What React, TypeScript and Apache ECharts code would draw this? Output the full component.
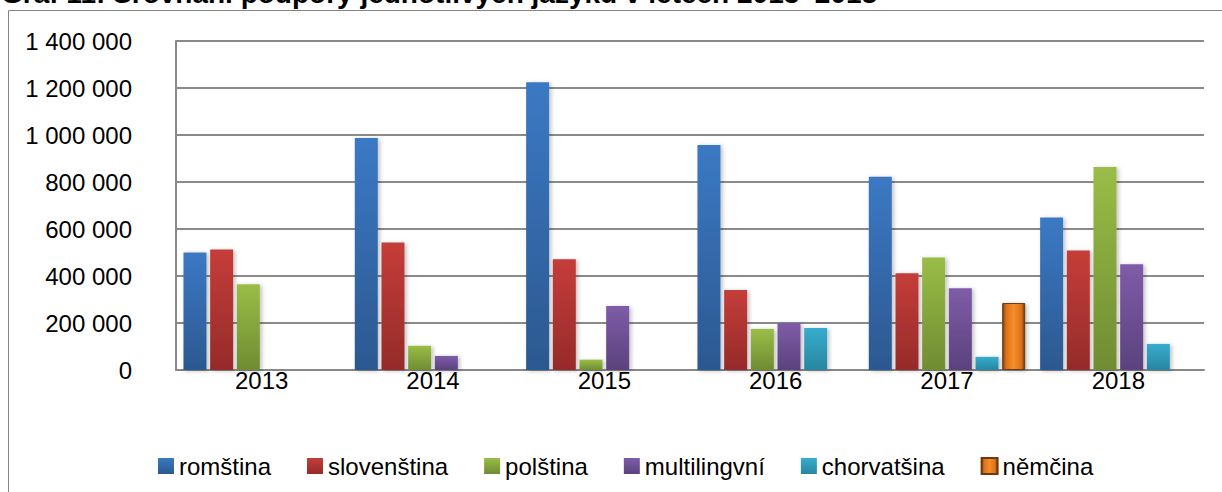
import React, { useEffect, useRef } from "react";
import * as echarts from "echarts";

const titleText = "Graf 11: Srovnání podpory jednotlivých jazyků v letech 2013–2018";
const categories = ["2013", "2014", "2015", "2016", "2017", "2018"];
const seriesNames = ["romština", "slovenština", "polština", "multilingvní", "chorvatšina", "němčina"];
const romstina = [500000, 987000, 1224000, 957000, 822000, 649000];
const slovenstina = [513000, 543000, 471000, 340000, 412000, 509000];
const polstina = [365000, 103000, 44000, 175000, 479000, 864000];
const multilingvni = [null, 60000, 272000, 200000, 348000, 450000];
const chorvatsina = [null, null, null, 179000, 56000, 111000];
const nemcina = [null, null, null, null, 285000, null];
const yTicks = { min: 0, max: 1400000, interval: 200000 };

const vGrad = (top: string, bottom: string) =>
  new echarts.graphic.LinearGradient(0, 0, 0, 1, [
    { offset: 0, color: top },
    { offset: 1, color: bottom },
  ]);

const fmt = (v: number) => String(v).replace(/\B(?=(\d{3})+(?!\d))/g, " ");

export default function App() {
  const ref = useRef<HTMLDivElement>(null);
  useEffect(() => {
    if (!ref.current) return;
    const chart = echarts.init(ref.current, null, { renderer: "svg" });
    const font = "'Liberation Sans', Arial, sans-serif";
    const colors = [
      vGrad("#3b79c4", "#2c5890"),
      vGrad("#c53d3a", "#952b29"),
      vGrad("#9abd47", "#6f8c32"),
      vGrad("#7e5ca8", "#5b427d"),
      vGrad("#37acce", "#2886a0"),
      new echarts.graphic.LinearGradient(0, 0, 1, 0, [
        { offset: 0, color: "#7a3f10" },
        { offset: 0.15, color: "#d9731b" },
        { offset: 0.5, color: "#f88d27" },
        { offset: 0.85, color: "#d9731b" },
        { offset: 1, color: "#6e380e" },
      ]),
    ];
    const data = [romstina, slovenstina, polstina, multilingvni, chorvatsina, nemcina];
    chart.setOption({
      animation: false,
      textStyle: { fontFamily: font },
      graphic: [
        {
          type: "rect",
          shape: { x: 8.5, y: 10.5, width: 1400, height: 700 },
          style: { fill: "none", stroke: "#858585", lineWidth: 1 },
          silent: true,
        },
        {
          type: "text",
          x: 1,
          y: -21,
          style: {
            text: titleText,
            font: "bold 28px 'Liberation Sans', Arial, sans-serif",
            fill: "#000",
          },
        },
      ],
      grid: { left: 176, right: 18, top: 41, bottom: 122 },
      legend: {
        left: 158,
        top: 454,
        padding: 0,
        icon: "rect",
        itemWidth: 16,
        itemHeight: 16,
        itemGap: 36,
        textStyle: { fontSize: 24, color: "#000", fontFamily: font },
        itemStyle: { shadowBlur: 0, shadowOffsetX: 0, shadowOffsetY: 0 },
        data: seriesNames,
      },
      xAxis: {
        type: "category",
        data: categories,
        axisLine: { show: true, lineStyle: { color: "#888", width: 2 } },
        axisTick: { show: false },
        axisLabel: { fontSize: 24, color: "#000", margin: -2 },
      },
      yAxis: {
        type: "value",
        min: yTicks.min,
        max: yTicks.max,
        interval: yTicks.interval,
        axisLine: { show: true, lineStyle: { color: "#888", width: 2 } },
        axisTick: { show: false },
        splitLine: { lineStyle: { color: "#8a8a8a", width: 2 } },
        axisLabel: { fontSize: 24, color: "#000", margin: 44, formatter: fmt },
      },
      series: seriesNames.map((name, i) => ({
        name,
        type: "bar",
        data: data[i],
        barWidth: 23,
        barGap: "16%",
        itemStyle: {
          color: colors[i],
          shadowColor: "rgba(0,0,0,0.25)",
          shadowBlur: 4,
          shadowOffsetX: 2,
          shadowOffsetY: 1,
          ...(i === 5 ? { borderColor: "#6b3a10", borderWidth: 1 } : {}),
        },
      })),
    });
    return () => chart.dispose();
  }, []);
  return (
    <div
      ref={ref}
      style={{ position: "absolute", left: 0, top: 0, width: 1222, height: 492, background: "#fff" }}
    />
  );
}
